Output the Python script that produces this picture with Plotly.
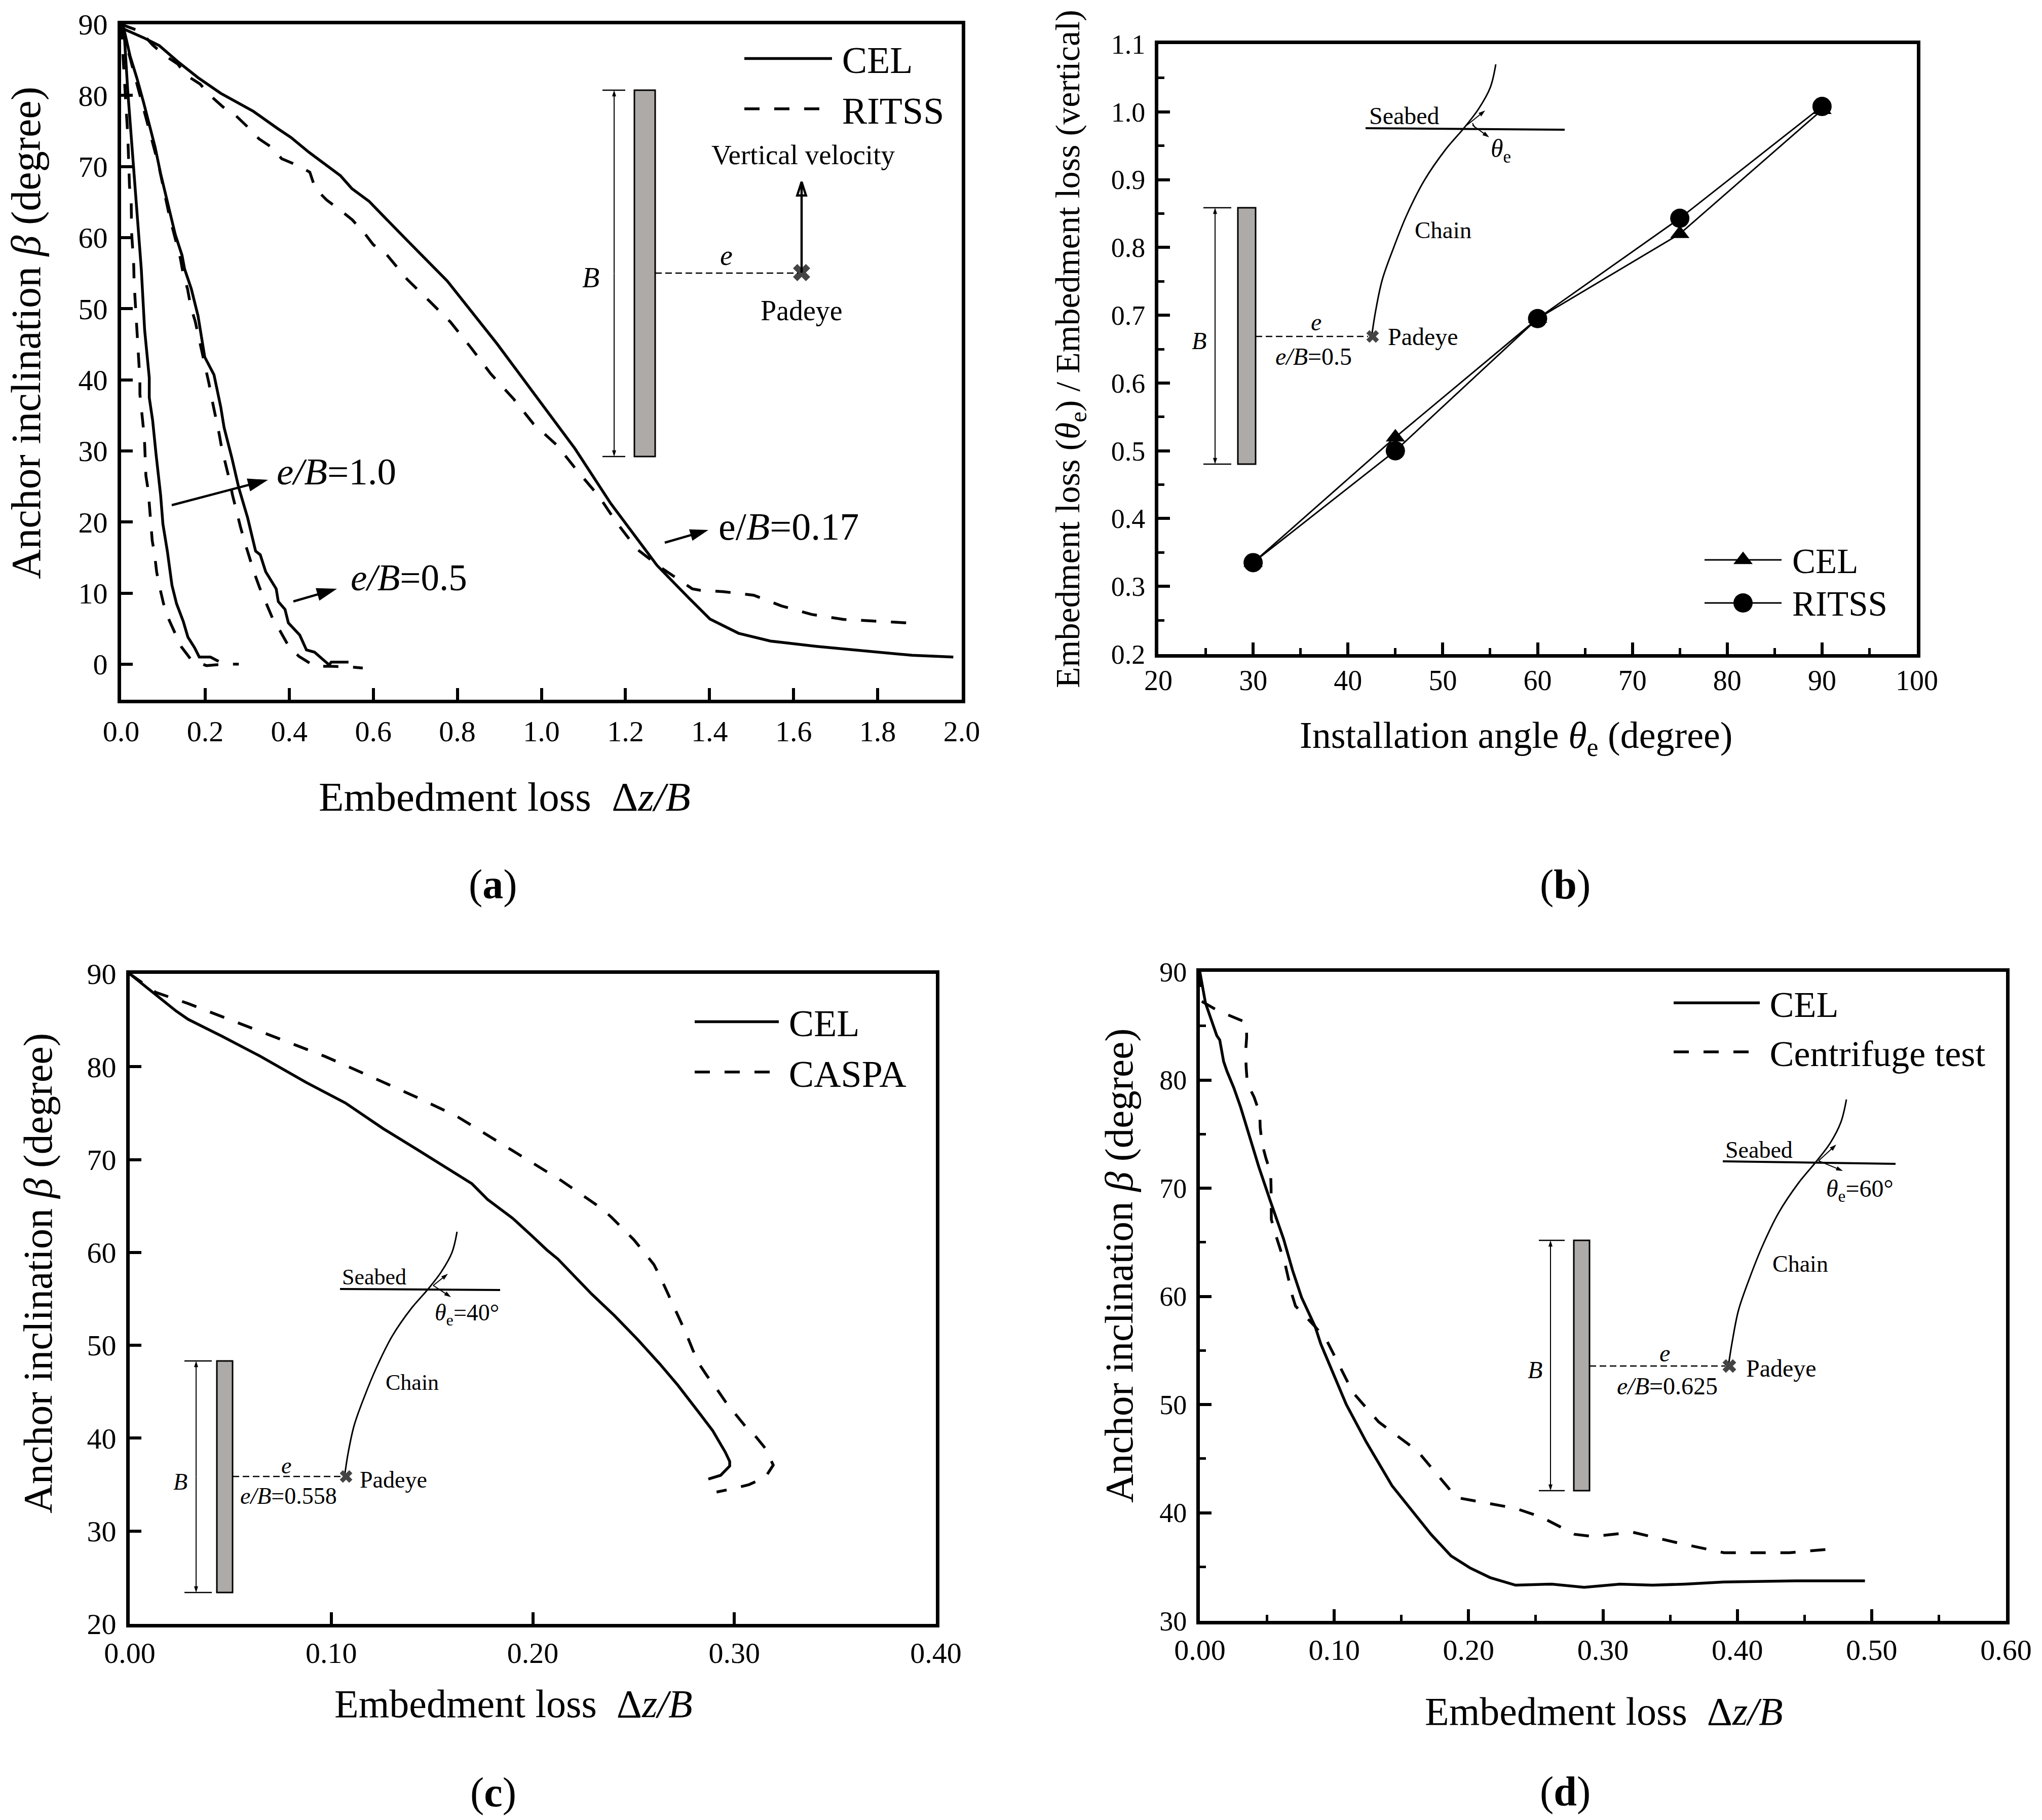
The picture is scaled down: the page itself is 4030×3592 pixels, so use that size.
import plotly.graph_objects as go

FONT = "Liberation Serif"

# ---------- data ----------
a_cel_017_x = [0, .008, .054, .091, .135, .183, .237, .315, .371, .404, .447, .522, .549, .59, .674, .776, .894, .9955, 1.08, 1.165, 1.275, 1.35, 1.401, 1.469, 1.545, 1.655, 1.782, 1.882, 1.98]
a_cel_017_y = [90, 89.3, 88.1, 87, 84.75, 82.5, 80.3, 77.75, 75.4, 74.1, 72, 68.7, 66.9, 65.1, 60, 53.9, 45.1, 37.1, 30.3, 22.6, 13.9, 9.35, 6.35, 4.35, 3.25, 2.5, 1.85, 1.25, 1]
a_rit_017_x = [0, .046, .075, .102, .135, .156, .188, .21, .242, .274, .304, .328, .358, .382, .422, .449, .462, .489, .525, .55, .578, .6, .632, .681, .733, .784, .834, .88, .934, .981, 1.037, 1.084, 1.137, 1.178, 1.227, 1.284, 1.359, 1.378, 1.433, 1.505, 1.571, 1.643, 1.719, 1.797, 1.873, 1.888]
a_rit_017_y = [90, 89, 87.1, 85.7, 84.4, 82.8, 81.6, 80.1, 78.4, 77.1, 75.4, 73.9, 72.7, 71.1, 70.1, 69.2, 66.9, 65.3, 63.7, 62.5, 60.7, 59, 57.6, 54.1, 51.1, 48.1, 44.4, 40.8, 37.3, 33.8, 30.8, 27.3, 23.6, 20, 16.2, 13.6, 10.6, 10.4, 10.2, 9.7, 8.2, 7, 6.3, 6, 5.8, 5.4]
a_cel_05_x = [0, .008, .0215, .0377, .054, .07, .081, .094, .113, .129, .145, .151, .167, .183, .199, .221, .237, .245, .264, .28, .301, .312, .32, .331, .344, .369, .374, .39, .398, .425, .441, .46, .495, .5, .541]
a_cel_05_y = [90, 89, 85.5, 82.4, 78.9, 75.4, 72.7, 69, 64.2, 60.4, 57.5, 55.6, 52.8, 49, 43.2, 40.7, 36.2, 33.3, 28.9, 24.8, 20.6, 17.7, 15.9, 15.4, 13, 10.6, 8.8, 7.7, 5.8, 4.1, 2, 1.7, -.1, .3, .3]
a_rit_05_x = [0, .02, .055, .09, .115, .132, .141, .148, .158, .166, .176, .185, .193, .202, .209, .217, .225, .233, .239, .249, .257, .265, .274, .284, .294, .306, .317, .33, .344, .36, .378, .398, .423, .461, .498, .538, .575]
a_rit_05_y = [90, 85.5, 78, 70, 63, 59.1, 57.1, 54.8, 52.8, 50.2, 48.3, 45.9, 43.9, 41.5, 39.5, 37, 34.9, 32.5, 30.5, 28.1, 26.1, 23.8, 21.6, 19.3, 17.2, 14.9, 12.8, 10.7, 8.7, 6.5, 4.7, 2.6, 1.1, -.3, -.3, -.35, -.55]
a_cel_10_x = [0, .008, .016, .032, .038, .048, .056, .0646, .067, .067, .075, .083, .094, .0995, .11, .121, .132, .148, .159, .175, .186, .2125, .232]
a_cel_10_y = [90, 88.1, 80.5, 67.7, 63, 55.6, 47, 42.2, 40.3, 37.5, 34.3, 29.6, 23.8, 19.7, 15.9, 11.1, 8.5, 6, 3.8, 2.3, 1, 1, .4]
a_rit_10_x = [0, .005, .01, .0135, .016, .02, .024, .025, .028, .03, .031, .033, .0355, .0366, .0387, .042, .0447, .0447, .0495, .0527, .056, .057, .059, .0646, .068, .0715, .074, .08, .0845, .0915, .101, .112, .128, .1426, .167, .203, .243, .28]
a_rit_10_y = [90, 85, 80, 76.3, 74.2, 67.2, 65.2, 60.7, 58.2, 56.1, 53.6, 51.6, 49.1, 47, 44.6, 42.5, 40, 38, 35.5, 33.4, 31, 28.9, 26.5, 24.4, 22, 19.8, 17.4, 15.3, 13, 10.9, 8.5, 6.5, 4.3, 2.5, .6, -.2, 0, 0]

b_x = [30, 45, 60, 75, 90]
b_cel = [.335, .52, .695, .82, 1.003]
b_rit = [.335, .50, .695, .843, 1.008]

c_cel_x = [0, .023, .029, .0456, .065, .0876, .107, .126, .1425, .162, .1698, .1776, .1899, .2, .2068, .2124, .2293, .2405, .2517, .263, .272, .283, .2893, .2955, .2977, .2977, .2932, .2871]
c_cel_y = [90, 86, 85.1, 83.3, 81.1, 78.3, 76.1, 73.3, 71.1, 68.5, 67.4, 65.7, 63.7, 61.7, 60.3, 59.3, 55.5, 53.2, 50.7, 48, 45.7, 42.6, 40.8, 38.5, 37.5, 37, 36, 35.6]
c_cas_x = [0, .013, .029, .049, .071, .097, .12, .1425, .162, .1821, .1883, .195, .2012, .2085, .2144, .2211, .227, .2337, .239, .2448, .25, .2553, .2601, .2638, .2668, .2706, .2733, .2766, .2794, .2828, .2865, .2916, .2957, .3009, .3054, .3109, .3154, .3193, .3154, .3073, .3002, .2912]
c_cas_y = [90, 88, 86.8, 85.1, 83.3, 81.1, 78.9, 76.7, 74.7, 72, 71.2, 70.3, 69.5, 68.5, 67.7, 66.7, 65.8, 64.8, 63.8, 62.5, 61.4, 60, 58.7, 57.1, 55.7, 54, 52.6, 51, 49.5, 47.9, 46.7, 45.2, 43.9, 42.5, 41.3, 40.1, 38.9, 37.1, 35.8, 35, 34.6, 34.2]

d_cel_x = [0, .0008, .0042, .0084, .0126, .0148, .0177, .0202, .0252, .0303, .0353, .0438, .0522, .0623, .069, .0757, .0858, .09, .109, .124, .143, .172, .187, .201, .216, .235, .262, .286, .3126, .337, .361, .39, .4435, .495]
d_cel_y = [90, 89.4, 87.1, 85.6, 84.1, 83.7, 81.7, 80.8, 79.3, 77.5, 75.4, 72, 68.9, 65.3, 62.4, 59.9, 57.2, 55.6, 50, 46.5, 42.5, 38, 36, 34.9, 34, 33.3, 33.4, 33.1, 33.4, 33.3, 33.4, 33.6, 33.7, 33.7]
d_cen_x = [0, .001, .0135, .0232, .0348, .0348, .034, .0345, .0353, .0404, .0446, .0449, .0463, .0491, .0527, .053, .053, .0532, .0564, .0597, .0636, .066, .0687, .0712, .0794, .0858, .0945, .114, .133, .162, .191, .235, .254, .279, .293, .322, .356, .39, .4387, .456, .475]
d_cen_y = [90, 87.3, 86.4, 85.9, 85.3, 83.9, 82.5, 81.1, 79.7, 78.4, 76.9, 75.6, 74.1, 72.8, 71.4, 70, 68.5, 67.1, 65.7, 64.4, 62.9, 61.6, 60.1, 59.1, 58, 57.2, 55.9, 51.1, 48.4, 45.7, 41.4, 40.4, 39.6, 38, 37.8, 38.2, 37.2, 36.3, 36.3, 36.5, 36.7]

W, H = 4030, 3592
BOX = dict(a=(239, 1898, 48, 1381), b=(2286, 3783, 87, 1291), c=(256, 1847, 1922, 3205), d=(2368, 3959, 1918, 3199))

fig = go.Figure()
LW = 5.5
DASH = "30px,29px"
TS = "\u2009"


def solid(name, x, y, xa, ya, legend=None):
    fig.add_trace(go.Scatter(x=x, y=y, mode="lines", name=name, xaxis=xa, yaxis=ya,
                             line=dict(color="black", width=LW), showlegend=legend is not None,
                             legend=legend, legendgroup=name))


def dashed(name, x, y, xa, ya, legend=None):
    fig.add_trace(go.Scatter(x=x, y=y, mode="lines", name=name, xaxis=xa, yaxis=ya,
                             line=dict(color="black", width=LW, dash=DASH), showlegend=legend is not None,
                             legend=legend, legendgroup=name))


solid(TS + "CEL", a_cel_017_x, a_cel_017_y, "x", "y", "legend")
dashed(TS + "RITSS", a_rit_017_x, a_rit_017_y, "x", "y", "legend")
solid("CEL e/B=0.5", a_cel_05_x, a_cel_05_y, "x", "y")
dashed("RITSS e/B=0.5", a_rit_05_x, a_rit_05_y, "x", "y")
solid("CEL e/B=1.0", a_cel_10_x, a_cel_10_y, "x", "y")
dashed("RITSS e/B=1.0", a_rit_10_x, a_rit_10_y, "x", "y")

fig.add_trace(go.Scatter(x=b_x, y=b_cel, name="CEL", xaxis="x2", yaxis="y2", mode="lines+markers", showlegend=False,
                         line=dict(color="black", width=3), marker=dict(symbol="triangle-up", size=33, color="black")))
fig.add_trace(go.Scatter(x=b_x, y=b_rit, name="RITSS", xaxis="x2", yaxis="y2", mode="lines+markers", showlegend=False,
                         line=dict(color="black", width=3), marker=dict(symbol="circle", size=38, color="black")))

solid(TS + "CEL", c_cel_x, c_cel_y, "x3", "y3", "legend3")
dashed(TS + "CASPA", c_cas_x, c_cas_y, "x3", "y3", "legend3")
solid(TS + "CEL", d_cel_x, d_cel_y, "x4", "y4", "legend4")
dashed(TS + "Centrifuge test", d_cen_x, d_cen_y, "x4", "y4", "legend4")


def axis(box, which, rng, dtick, fmt, size, minor=None, standoff=None):
    if which == "x":
        dom = [box[0] / W, box[1] / W]
    else:
        dom = [1 - box[3] / H, 1 - box[2] / H]
    d = dict(domain=dom, range=rng, dtick=dtick, tick0=rng[0], tickformat=fmt, showgrid=False, zeroline=False,
             showline=True, mirror=True, linecolor="black", linewidth=7, ticks="inside", ticklen=23, tickwidth=6,
             tickcolor="black", tickfont=dict(family=FONT, size=size, color="black"))
    if minor:
        d["minor"] = dict(dtick=minor, tick0=rng[0], ticks="inside", ticklen=12, tickwidth=5, tickcolor="black", showgrid=False)
    if standoff is not None:
        d["ticklabelstandoff"] = standoff
    return d


layout = dict(
    width=W, height=H, margin=dict(l=0, r=0, t=0, b=0, autoexpand=False), paper_bgcolor="white", plot_bgcolor="rgba(0,0,0,0)",
    xaxis=dict(axis(BOX["a"], "x", [0, 2], .2, ".1f", 58, standoff=5), anchor="y"),
    yaxis=dict(axis(BOX["a"], "y", [-5, 90], 10, "d", 58, standoff=8), anchor="x", tick0=0),
    xaxis2=dict(axis(BOX["b"], "x", [20, 100], 10, "d", 56, minor=5, standoff=-3), anchor="y2"),
    yaxis2=dict(axis(BOX["b"], "y", [.2, 1.1], .1, ".1f", 54, minor=.05, standoff=8), anchor="x2"),
    xaxis3=dict(axis(BOX["c"], "x", [0, .4], .1, ".2f", 58, standoff=0), anchor="y3"),
    yaxis3=dict(axis(BOX["c"], "y", [20, 90], 10, "d", 58, standoff=8), anchor="x3"),
    xaxis4=dict(axis(BOX["d"], "x", [0, .6], .1, ".2f", 58, minor=.05, standoff=0), anchor="y4"),
    yaxis4=dict(axis(BOX["d"], "y", [30, 90], 10, "d", 54, minor=5, standoff=8), anchor="x4"),
    # overlay in page pixels for the inset schematics and texts
    xaxis5=dict(domain=[0, 1], range=[0, W], visible=False, anchor="y5", fixedrange=True),
    yaxis5=dict(domain=[0, 1], range=[H, 0], visible=False, anchor="x5", fixedrange=True),
    showlegend=True,
)


def legend(px, py, item, size=74, gap=0):
    return dict(x=(px - 5) / W, y=1 - py / H, xanchor="left", yanchor="top", bgcolor="rgba(0,0,0,0)", itemwidth=item,
                font=dict(family=FONT, size=size, color="black"), tracegroupgap=gap, traceorder="grouped", itemclick=False)


layout["legend"] = legend(1469, 61, 173)
layout["legend3"] = legend(1371, 1962, 166)
layout["legend4"] = legend(3303, 1926, 170, 72)
fig.update_layout(**layout)

shapes = []
anns = []


def text(x, y, s, size, angle=0, anchor="center"):
    anns.append(dict(x=x, y=y, xref="x5", yref="y5", text=s, showarrow=False, textangle=angle, xanchor=anchor, yanchor="middle",
                     font=dict(family=FONT, size=size, color="black")))


def arrow(x0, y0, x1, y1, width=3, size=14, symbol="arrow"):
    fig.add_trace(go.Scatter(x=[x0, x1], y=[y0, y1], mode="lines+markers", xaxis="x5", yaxis="y5", showlegend=False, hoverinfo="skip",
                             line=dict(color="black", width=width),
                             marker=dict(symbol=symbol, size=[0, size], opacity=1, angleref="previous", color="black",
                                         line=dict(color="black", width=width if symbol.endswith("open") else 0))))


def line(x0, y0, x1, y1, width=3, dash=None):
    shapes.append(dict(type="line", xref="x5", yref="y5", x0=x0, y0=y0, x1=x1, y1=y1, line=dict(color="black", width=width, dash=dash)))


def plate(x0, x1, y0, y1, capx0, capx1, dimx):
    shapes.append(dict(type="rect", xref="x5", yref="y5", x0=x0, x1=x1, y0=y0, y1=y1, fillcolor="#aeaaa7", line=dict(color="black", width=3)))
    line(capx0, y0, capx1, y0, 2.5)
    line(capx0, y1, capx1, y1, 2.5)
    mid = (y0 + y1) / 2
    arrow(dimx, mid, dimx, y0, 2, 13)
    arrow(dimx, mid, dimx, y1, 2, 13)


def chain(xs, ys):
    fig.add_trace(go.Scatter(x=xs, y=ys, mode="lines", xaxis="x5", yaxis="y5", showlegend=False, hoverinfo="skip",
                             line=dict(color="black", width=3, shape="spline")))


def padeye(x, y, size):
    fig.add_trace(go.Scatter(x=[x], y=[y], mode="markers", xaxis="x5", yaxis="y5", showlegend=False, hoverinfo="skip",
                             marker=dict(symbol="x", size=size, color="#444444")))


def big_key(x, y, symbol, size):
    fig.add_trace(go.Scatter(x=[x], y=[y], mode="markers", xaxis="x5", yaxis="y5", showlegend=False, hoverinfo="skip",
                             marker=dict(symbol=symbol, size=size, color="black")))


BETA_Y = "Anchor inclination <i>β</i> (degree)"
DZ = "Embedment loss  Δ<i>z/B</i>"
SD = "13px,7px"

# panel a
text(996, 1573, DZ, 81)
text(51, 657, BETA_Y, 82, -90)
text(973, 1745, "(<b>a</b>)", 82)
plate(1252, 1293, 178, 901, 1189, 1234, 1212)
text(1166, 548, "<i>B</i>", 56)
line(1293, 539, 1575, 539, 2.5, SD)
text(1433, 504, "<i>e</i>", 56)
padeye(1582, 538, 30)
arrow(1582, 538, 1582, 359, 4.5, 28, "arrow-open")
text(1585, 305, "Vertical velocity", 55)
text(1582, 613, "Padeye", 56)
text(664, 930, "<i>e/B</i>=1.0", 75)
arrow(339, 997, 529, 947, 4.5, 42)
text(807, 1140, "<i>e/B</i>=0.5", 73)
arrow(579, 1187, 665, 1162, 4.5, 42)
text(1556, 1039, "e/<i>B</i>=0.17", 76)
arrow(1312, 1071, 1398, 1046, 4.5, 38)

# panel b
text(2992, 1456, "Installation angle <i>θ</i><sub>e</sub> (degree)", 74)
text(2111, 689, "Embedment loss (<i>θ</i><sub>e</sub>) / Embedment loss (vertical)", 68, -90)
text(3089, 1745, "(<b>b</b>)", 82)
plate(2443, 2478, 410, 916, 2375, 2430, 2398)
text(2366, 672, "<i>B</i>", 48)
line(2478, 664, 2700, 664, 2.5, SD)
text(2597, 635, "<i>e</i>", 48)
text(2592, 703, "<i>e/B</i>=0.5", 48)
text(2808, 664, "Padeye", 48)
chain([2707, 2715, 2728, 2750, 2776, 2811, 2853, 2889, 2918, 2941, 2952], [664, 613, 552, 490, 425, 356, 295, 253, 215, 173, 127])
padeye(2709, 664, 22)
line(2695, 253, 3088, 256, 4)
text(2771, 228, "Seabed", 48)
text(2848, 454, "Chain", 47)
text(2962, 297, "<i>θ</i><sub>e</sub>", 50)
arrow(2895, 247, 2931, 218, 2, 14)
arrow(2906, 247, 2939, 271, 2, 14)
line(2906, 243, 2911, 252, 2)
# panel b key: the library's legend caps marker size, so this key is built on the page overlay
line(3364, 1105, 3516, 1105, 3)
big_key(3440, 1105, "triangle-up", 33)
text(3535, 1108, "CEL", 69, anchor="left")
line(3364, 1190, 3516, 1190, 3)
big_key(3440, 1190, "circle", 38)
text(3535, 1192, "RITSS", 69, anchor="left")

# panel c
text(1013, 3362, DZ, 78)
text(75, 2513, BETA_Y, 80, -90)
text(973, 3537, "(<b>c</b>)", 82)
plate(428, 459, 2686, 3143, 364, 418, 387)
text(356, 2924, "<i>B</i>", 46)
line(459, 2914, 675, 2914, 2.5, SD)
text(565, 2892, "<i>e</i>", 46)
text(569, 2952, "<i>e/B</i>=0.558", 46)
text(776, 2920, "Padeye", 46)
chain([680, 687, 699, 719, 743, 774, 812, 845, 871, 892, 902], [2914, 2868, 2813, 2757, 2699, 2637, 2582, 2544, 2510, 2472, 2431])
padeye(683, 2914, 22)
line(671, 2544, 987, 2546, 4)
text(738, 2520, "Seabed", 44)
text(813, 2728, "Chain", 44)
text(921, 2594, "<i>θ</i><sub>e</sub>=40°", 46)
arrow(855, 2537, 884, 2514, 2, 14)
arrow(855, 2537, 890, 2560, 2, 14)

# panel d
text(3165, 3377, DZ, 78)
text(2208, 2498, BETA_Y, 79, -90)
text(3089, 3535, "(<b>d</b>)", 82)
plate(3106, 3137, 2448, 2942, 3037, 3088, 3060)
text(3029, 2703, "<i>B</i>", 48)
line(3137, 2696, 3405, 2696, 2.5, SD)
text(3285, 2670, "<i>e</i>", 48)
text(3290, 2735, "<i>e/B</i>=0.625", 48)
text(3515, 2700, "Padeye", 48)
chain([3411, 3419, 3431, 3452, 3477, 3510, 3550, 3584, 3612, 3633, 3644], [2696, 2646, 2586, 2525, 2462, 2394, 2334, 2293, 2256, 2215, 2170])
padeye(3413, 2696, 24)
line(3400, 2292, 3741, 2297, 4)
text(3471, 2269, "Seabed", 46)
text(3553, 2494, "Chain", 46)
text(3670, 2349, "<i>θ</i><sub>e</sub>=60°", 48)
arrow(3589, 2291, 3624, 2259, 2, 14)
arrow(3589, 2291, 3637, 2311, 2, 14)

fig.update_layout(shapes=shapes, annotations=anns)
fig.write_html("out.html", post_script="document.body.style.margin='0';", config={"displayModeBar": False})
